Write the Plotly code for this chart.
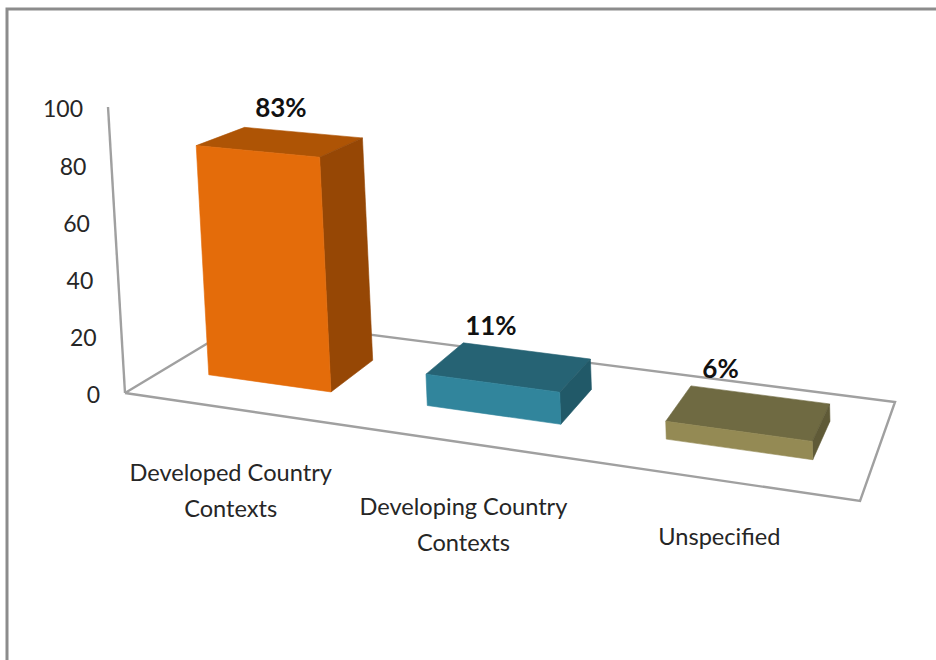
import plotly.graph_objects as go

# Chart data
category_first_lines = ["Developed Country", "Developing Country", "Unspecified"]
category_second_lines = ["Contexts", "Contexts", ""]
shares = [83, 11, 6]
share_labels = ["83%", "11%", "6%"]
tick_values = [0, 20, 40, 60, 80, 100]

# Colours per bar: front, top and side faces
front_colors = ["#E46C0A", "#31859C", "#948A54"]
top_colors = ["#AE5405", "#266374", "#6F6A42"]
side_colors = ["#964705", "#215968", "#5F5A37"]

FRAME = "#8C8C8C"
FLOOR = "#A0A0A0"
TEXT = "#262626"
FONT = "Lato"

# Perspective camera: u runs along the categories, v into the depth, t up the value axis
H = [[621.1, 158.5, -18.6, 125.0],
     [41.6, -28.3, -287.6, 393.0],
     [-0.1325, 0.1432, -0.015, 1.0]]

BAR_HALF_WIDTH = 0.095
BAR_SHIFT = -0.002
BAR_NEAR, BAR_FAR = 0.30, 0.70

# Label offsets in pixels from the projected anchors
SHARE_NUDGE = [(-1, -31), (-20, -38), (-30, -41)]
CATEGORY_DROP = [66, 66, 58]
LINE_GAP = 36


def project(u, v, value):
    t = value / 100
    w = H[2][0] * u + H[2][1] * v + H[2][2] * t + H[2][3]
    x = (H[0][0] * u + H[0][1] * v + H[0][2] * t + H[0][3]) / w
    y = (H[1][0] * u + H[1][1] * v + H[1][2] * t + H[1][3]) / w
    return x, y


def polyline(points):
    xy = [project(*p) for p in points]
    return [p[0] for p in xy], [p[1] for p in xy]


fig = go.Figure()


def add_line(xs, ys, color, width):
    fig.add_trace(go.Scatter(x=xs, y=ys, mode="lines", line=dict(color=color, width=width),
                             hoverinfo="skip", showlegend=False))


def add_face(points, color):
    xs, ys = polyline(points + points[:1])
    fig.add_trace(go.Scatter(x=xs, y=ys, mode="lines", fill="toself", fillcolor=color,
                             line=dict(color=color, width=0.6),
                             hoverinfo="skip", showlegend=False))


# Outer frame, open at the bottom and on the right
add_line([7, 7, 936], [660, 9, 9], FRAME, 3)

# Floor outline and the value axis rising from its near-left corner
add_line(*polyline([(0, 0, 0), (1, 0, 0), (1, 1, 0), (0, 1, 0), (0, 0, 0)]), FLOOR, 2.4)
add_line(*polyline([(0, 0, 0), (0, 0, 100)]), FLOOR, 2.4)

# Bars
for i, value in enumerate(shares):
    u0 = (i + 0.5) / 3 + BAR_SHIFT - BAR_HALF_WIDTH
    u1 = (i + 0.5) / 3 + BAR_SHIFT + BAR_HALF_WIDTH
    add_face([(u0, BAR_NEAR, value), (u1, BAR_NEAR, value), (u1, BAR_FAR, value), (u0, BAR_FAR, value)],
             top_colors[i])
    add_face([(u1, BAR_NEAR, 0), (u1, BAR_FAR, 0), (u1, BAR_FAR, value), (u1, BAR_NEAR, value)],
             side_colors[i])
    add_face([(u0, BAR_NEAR, 0), (u1, BAR_NEAR, 0), (u1, BAR_NEAR, value), (u0, BAR_NEAR, value)],
             front_colors[i])

# Value axis tick labels
tick_xy = [project(0, 0, v) for v in tick_values]
fig.add_trace(go.Scatter(x=[p[0] - 25 for p in tick_xy], y=[p[1] + 4 for p in tick_xy],
                         mode="text", text=[str(v) for v in tick_values], textposition="middle left",
                         textfont=dict(family=FONT, size=23, color=TEXT),
                         hoverinfo="skip", showlegend=False))

# Share labels above the bars
share_xy = [project((i + 0.5) / 3, 0.5, v) for i, v in enumerate(shares)]
fig.add_trace(go.Scatter(x=[p[0] + n[0] for p, n in zip(share_xy, SHARE_NUDGE)],
                         y=[p[1] + n[1] for p, n in zip(share_xy, SHARE_NUDGE)],
                         mode="text", text=share_labels, textposition="middle center",
                         textfont=dict(family=FONT, size=26, color="#111111", weight="bold"),
                         hoverinfo="skip", showlegend=False))

# Category labels below the floor, with the wider line spacing set by hand
cat_xy = [project((i + 0.5) / 3, 0, 0) for i in range(len(category_first_lines))]
for lines, gap in ((category_first_lines, 0), (category_second_lines, LINE_GAP)):
    fig.add_trace(go.Scatter(x=[p[0] - 3 for p in cat_xy],
                             y=[p[1] + d + gap for p, d in zip(cat_xy, CATEGORY_DROP)],
                             mode="text", text=lines, textposition="middle center",
                             textfont=dict(family=FONT, size=23.6, color=TEXT),
                             hoverinfo="skip", showlegend=False))

fig.update_layout(
    width=936, height=660, autosize=False,
    margin=dict(l=0, r=0, t=0, b=0),
    paper_bgcolor="white", plot_bgcolor="white",
    xaxis=dict(range=[0, 936], visible=False, fixedrange=True),
    yaxis=dict(range=[660, 0], visible=False, fixedrange=True),
    showlegend=False,
)

fig.write_html("out.html", config={"displayModeBar": False})
